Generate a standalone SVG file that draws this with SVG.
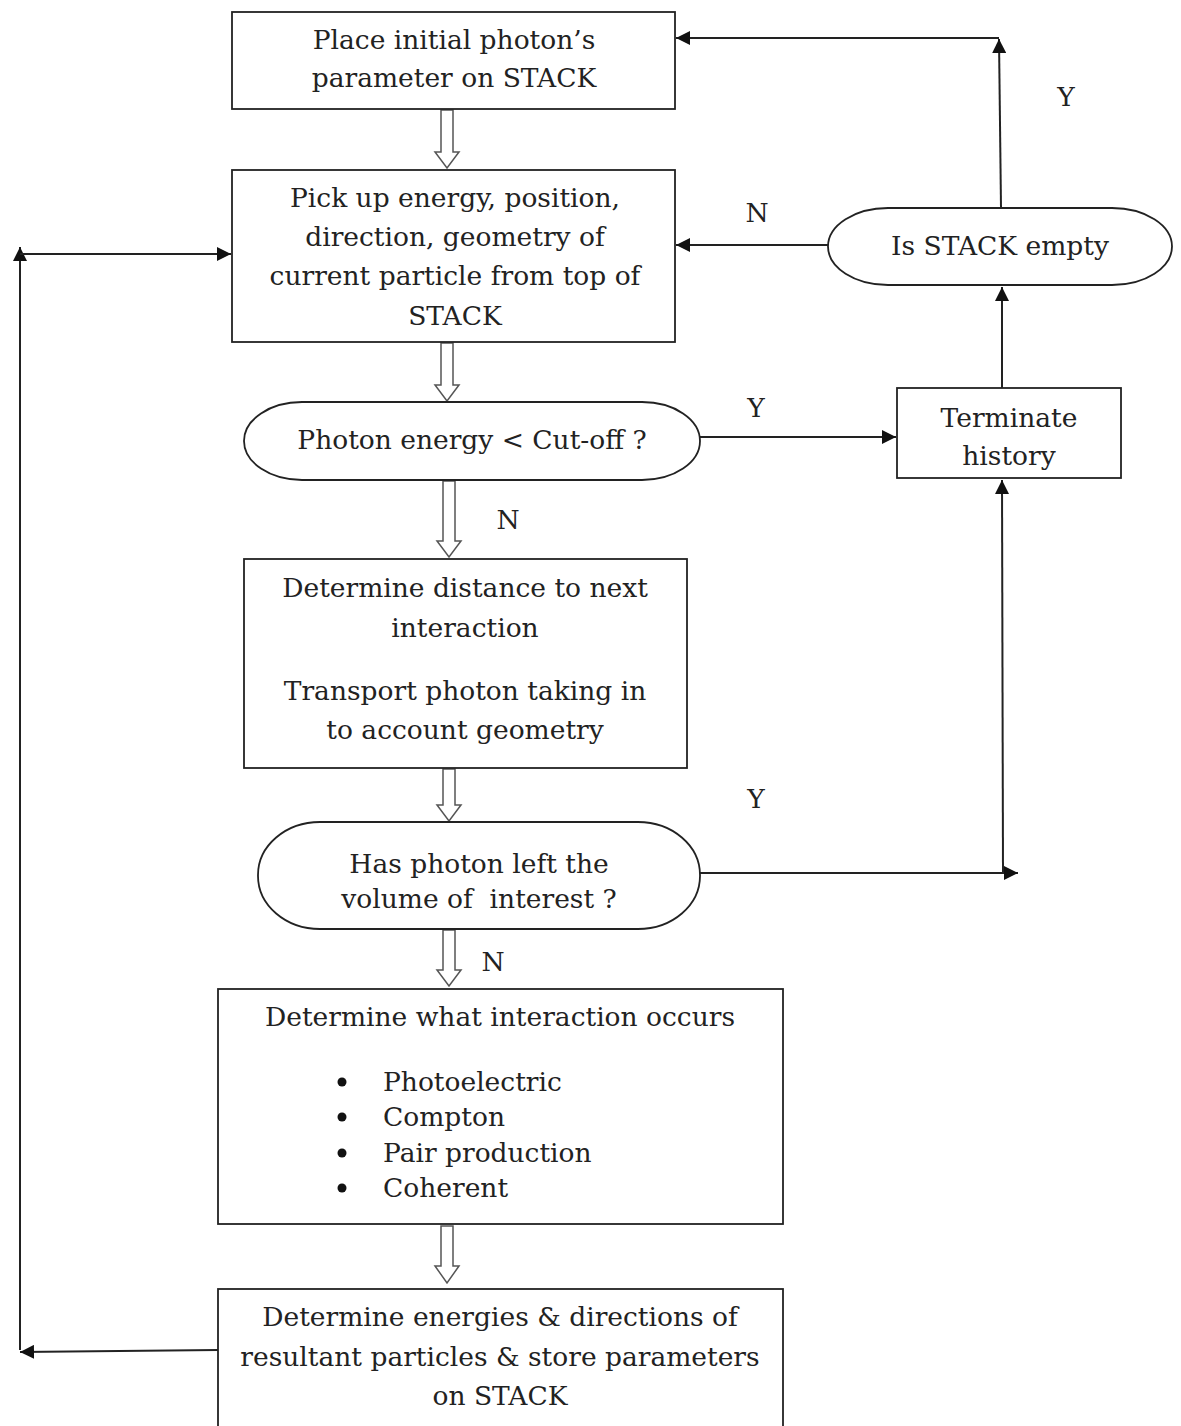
<svg xmlns="http://www.w3.org/2000/svg" width="1181" height="1426" viewBox="0 0 1181 1426">
<style>
.box{fill:#fff;stroke:#222;stroke-width:1.8}
.t{font-family:"DejaVu Serif","Liberation Serif",serif;font-size:26.5px;fill:#222;text-anchor:middle;white-space:pre}
.tl{font-family:"DejaVu Serif","Liberation Serif",serif;font-size:26.5px;fill:#222}
.c{fill:none;stroke:#222;stroke-width:2}
.h{fill:#fff;stroke:#555;stroke-width:1.5}
</style>
<defs>
<marker id="ahb" viewBox="0 0 10 10" refX="10" refY="5" markerWidth="14" markerHeight="14" markerUnits="userSpaceOnUse" orient="auto">
<path d="M0,0 L10,5 L0,10 Z" fill="#111"/>
</marker>
</defs>
<rect width="1181" height="1426" fill="#fff"/>

<g id="connectors">
  <path class="h" d="M441,110 L453,110 L453,152 L459,152 L447,168 L435,152 L441,152 Z"/>
  <path class="h" d="M441,343 L453,343 L453,385 L459,385 L447,401 L435,385 L441,385 Z"/>
  <path class="h" d="M443,481 L455,481 L455,541 L461,541 L449,557 L437,541 L443,541 Z"/>
  <path class="h" d="M443,769 L455,769 L455,805 L461,805 L449,821 L437,805 L443,805 Z"/>
  <path class="h" d="M443,930 L455,930 L455,970 L461,970 L449,986 L437,970 L443,970 Z"/>
  <path class="h" d="M441,1226 L453,1226 L453,1266 L459,1266 L447,1283 L435,1266 L441,1266 Z"/>
  <line class="c" x1="700" y1="437" x2="896" y2="437" marker-end="url(#ahb)"/>
  <line class="c" x1="1002" y1="388" x2="1002" y2="287" marker-end="url(#ahb)"/>
  <line class="c" x1="828" y1="245" x2="676" y2="245" marker-end="url(#ahb)"/>
  <line class="c" x1="1001" y1="208" x2="999" y2="39" marker-end="url(#ahb)"/>
  <line class="c" x1="999" y1="38" x2="676" y2="38" marker-end="url(#ahb)"/>
  <line class="c" x1="700" y1="873" x2="1018" y2="873" marker-end="url(#ahb)"/>
  <line class="c" x1="1003" y1="873" x2="1002" y2="480" marker-end="url(#ahb)"/>
  <line class="c" x1="218" y1="1350" x2="20" y2="1352" marker-end="url(#ahb)"/>
  <line class="c" x1="20" y1="1350" x2="20" y2="247" marker-end="url(#ahb)"/>
  <line class="c" x1="20" y1="254" x2="231" y2="254" marker-end="url(#ahb)"/>
  <text class="t" x="1066" y="106">Y</text>
  <text class="t" x="757" y="222">N</text>
  <text class="t" x="756" y="417">Y</text>
  <text class="t" x="508" y="529">N</text>
  <text class="t" x="756" y="808">Y</text>
  <text class="t" x="493" y="971">N</text>
</g>

<g id="n1">
  <rect class="box" x="232" y="12" width="443" height="97"/>
  <text class="t" x="454" y="49">Place initial photon’s</text>
  <text class="t" x="454" y="87">parameter on STACK</text>
</g>
<g id="n2">
  <rect class="box" x="232" y="170" width="443" height="172"/>
  <text class="t" x="455" y="207">Pick up energy, position,</text>
  <text class="t" x="455" y="246">direction, geometry of</text>
  <text class="t" x="455" y="285">current particle from top of</text>
  <text class="t" x="455" y="325">STACK</text>
</g>
<g id="n3">
  <rect class="box" x="244" y="402" width="456" height="78" rx="58" ry="39"/>
  <text class="t" x="472" y="449">Photon energy &lt; Cut-off ?</text>
</g>
<g id="n4">
  <rect class="box" x="244" y="559" width="443" height="209"/>
  <text class="t" x="465" y="597">Determine distance to next</text>
  <text class="t" x="465" y="637">interaction</text>
  <text class="t" x="465" y="700">Transport photon taking in</text>
  <text class="t" x="465" y="739">to account geometry</text>
</g>
<g id="n5">
  <rect class="box" x="258" y="822" width="442" height="107" rx="62" ry="53"/>
  <text class="t" x="479" y="873">Has photon left the</text>
  <text class="t" x="479" y="908">volume of  interest ?</text>
</g>
<g id="n6">
  <rect class="box" x="218" y="989" width="565" height="235"/>
  <text class="t" x="500" y="1026">Determine what interaction occurs</text>
  <circle cx="342" cy="1082" r="4.5" fill="#111"/>
  <circle cx="342" cy="1117" r="4.5" fill="#111"/>
  <circle cx="342" cy="1153" r="4.5" fill="#111"/>
  <circle cx="342" cy="1188" r="4.5" fill="#111"/>
  <text class="tl" x="383" y="1091">Photoelectric</text>
  <text class="tl" x="383" y="1126">Compton</text>
  <text class="tl" x="383" y="1162">Pair production</text>
  <text class="tl" x="383" y="1197">Coherent</text>
</g>
<g id="n7">
  <rect class="box" x="218" y="1289" width="565" height="145"/>
  <text class="t" x="500" y="1326">Determine energies &amp; directions of</text>
  <text class="t" x="500" y="1366">resultant particles &amp; store parameters</text>
  <text class="t" x="500" y="1405">on STACK</text>
</g>
<g id="n8">
  <rect class="box" x="828" y="208" width="344" height="77" rx="60" ry="38.5"/>
  <text class="t" x="1000" y="255">Is STACK empty</text>
</g>
<g id="n9">
  <rect class="box" x="897" y="388" width="224" height="90"/>
  <text class="t" x="1009" y="427">Terminate</text>
  <text class="t" x="1009" y="465">history</text>
</g>
</svg>
